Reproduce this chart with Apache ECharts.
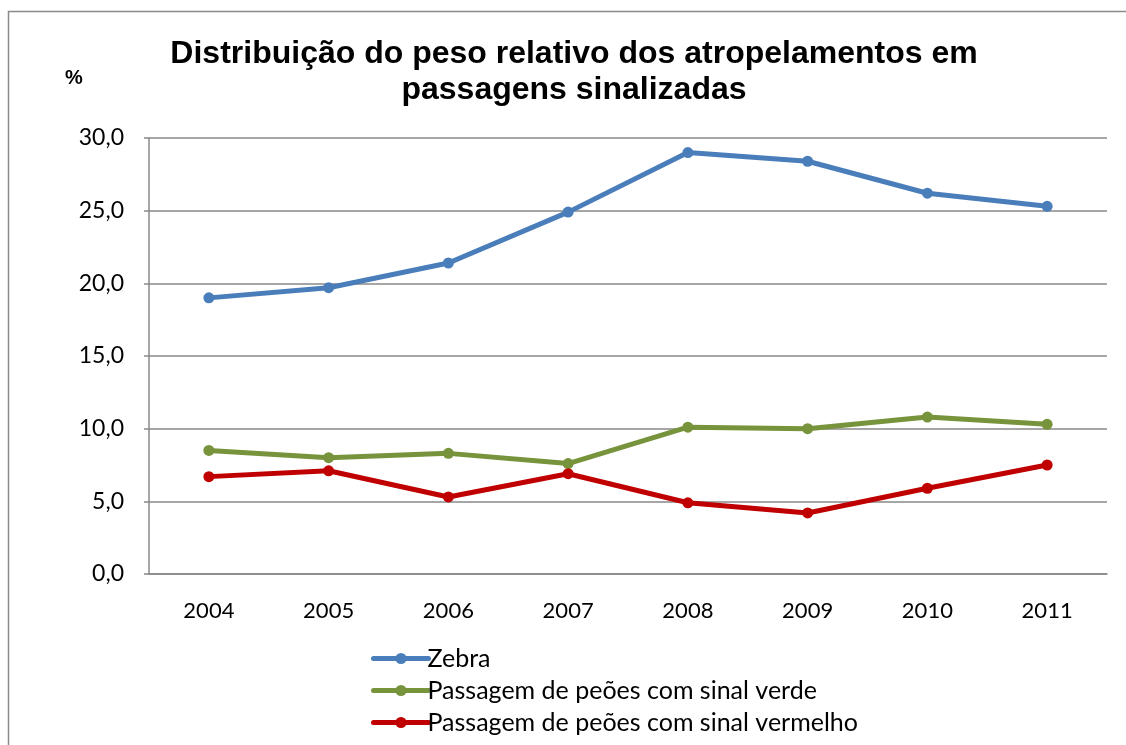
<!DOCTYPE html>
<html>
<head>
<meta charset="utf-8">
<script src="https://cdn.jsdelivr.net/npm/echarts@6/dist/echarts.min.js"></script>
<style>
  html, body { margin: 0; padding: 0; background: #fff; }
  #chart { width: 1126px; height: 745px; }
</style>
</head>
<body>
<div id="chart"></div>
<script>
// dados
var anos = ['2004', '2005', '2006', '2007', '2008', '2009', '2010', '2011'];
var zebra = [19.0, 19.7, 21.4, 24.9, 29.0, 28.4, 26.2, 25.3];
var sinalVerde = [8.5, 8.0, 8.3, 7.6, 10.1, 10.0, 10.8, 10.3];
var sinalVermelho = [6.7, 7.1, 5.3, 6.9, 4.9, 4.2, 5.9, 7.5];
var nomes = ['Zebra', 'Passagem de peões com sinal verde', 'Passagem de peões com sinal vermelho'];
var cores = ['#4a7ebb', '#77933c', '#c00000'];

var chart = echarts.init(document.getElementById('chart'));

function linha(nome, dados, cor) {
    return {
        name: nome,
        type: 'line',
        data: dados,
        symbol: 'circle',
        symbolSize: 11,
        lineStyle: { width: 5, color: cor, cap: 'round' },
        itemStyle: { color: cor },
        animation: false
    };
}

var option = {
    backgroundColor: '#fff',
    title: {
        text: 'Distribuição do peso relativo dos atropelamentos em\npassagens sinalizadas',
        left: 569,
        top: 31,
        textAlign: 'center',
        textStyle: {
            fontFamily: 'Liberation Sans',
            fontWeight: 'bold',
            fontSize: 32,
            lineHeight: 36,
            color: '#000'
        }
    },
    graphic: [
        {
            type: 'polyline',
            shape: { points: [[8.5, 760], [8.5, 11.5], [1140, 11.5]] },
            style: { fill: 'none', stroke: '#8a8a8a', lineWidth: 1.5 },
            silent: true
        },
        {
            type: 'text',
            left: 65,
            top: 68,
            style: {
                text: '%',
                font: 'bold 20px "Liberation Sans"',
                fill: '#000'
            }
        }
    ],
    legend: {
        orient: 'vertical',
        left: 366,
        top: 641,
        itemWidth: 55,
        itemHeight: 14,
        itemGap: 7,
        data: nomes,
        lineStyle: { width: 5, cap: 'round' },
        textStyle: {
            fontFamily: 'Lato',
            fontSize: 25,
            lineHeight: 24,
            color: '#000',
            padding: [0, 0, 0, -6]
        }
    },
    grid: {
        left: 149,
        top: 138,
        right: 19,
        bottom: 171,
        containLabel: false
    },
    xAxis: {
        type: 'category',
        data: anos,
        boundaryGap: true,
        axisLine: { lineStyle: { color: '#888', width: 1.5 } },
        axisTick: { show: false },
        axisLabel: {
            margin: 26,
            fontFamily: 'Lato',
            fontSize: 22,
            color: '#000'
        }
    },
    yAxis: {
        type: 'value',
        min: 0,
        max: 30,
        interval: 5,
        axisLine: { show: true, lineStyle: { color: '#888', width: 1.5 } },
        axisTick: { show: true, length: 5, lineStyle: { color: '#888', width: 1.5 } },
        splitLine: { lineStyle: { color: '#888', width: 1.5 } },
        axisLabel: {
            margin: 25,
            fontFamily: 'Lato',
            fontSize: 23,
            color: '#000',
            formatter: function (v) { return v.toFixed(1).replace('.', ','); }
        }
    },
    series: [
        linha(nomes[0], zebra, cores[0]),
        linha(nomes[1], sinalVerde, cores[1]),
        linha(nomes[2], sinalVermelho, cores[2])
    ]
};

chart.setOption(option);
</script>
</body>
</html>
